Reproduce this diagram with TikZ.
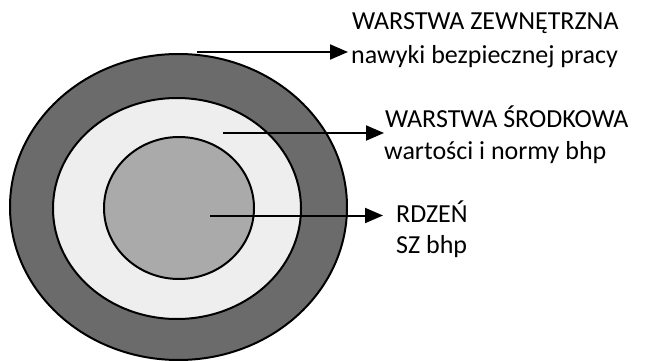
\documentclass[tikz,border=0pt]{standalone}
\usepackage{fontspec}
\setmainfont{Carlito}
\usetikzlibrary{arrows.meta}
\definecolor{outerc}{HTML}{6B6B6B}
\definecolor{midc}{HTML}{EEEEEE}
\definecolor{innerc}{HTML}{AAAAAA}
\tikzset{
  ring/.style={draw=black, line width=2pt},
  pointer/.style={line width=2pt, -{Triangle[length=18pt,width=15pt]}},
  lbl/.style={anchor=base west, inner sep=0pt, font=\fontsize{26}{30}\selectfont}
}
\begin{document}
\begin{tikzpicture}[x=1pt,y=-1pt]
\useasboundingbox (0,0) rectangle (646,361);
\fill[white] (0,0) rectangle (646,361);
\draw[ring, fill=outerc] (178.5,207) ellipse [x radius=168.5, y radius=153];
\draw[ring, fill=midc] (177,208.5) ellipse [x radius=124, y radius=110.5];
\draw[ring, fill=innerc] (179,208) ellipse [x radius=75, y radius=71];
\coordinate (s1) at (197,52);
\coordinate (s2) at (223,133);
\coordinate (s3) at (210,215.5);
\coordinate (e1) at (348,52);
\coordinate (e2) at (384,133);
\coordinate (e3) at (383,215.5);
\draw[pointer] (s1) -- (e1);
\draw[pointer] (s2) -- (e2);
\draw[pointer] (s3) -- (e3);
\node[lbl] (t1a) at (352,30) {WARSTWA ZEWNĘTRZNA};
\node[lbl] (t1b) at (351,64) {nawyki bezpiecznej pracy};
\node[lbl] (t2a) at (385,128) {WARSTWA ŚRODKOWA};
\node[lbl] (t2b) at (384,159) {wartości i normy bhp};
\node[lbl] (t3a) at (396,222) {RDZEŃ};
\node[lbl] (t3b) at (396,253) {SZ bhp};
\end{tikzpicture}
\end{document}
